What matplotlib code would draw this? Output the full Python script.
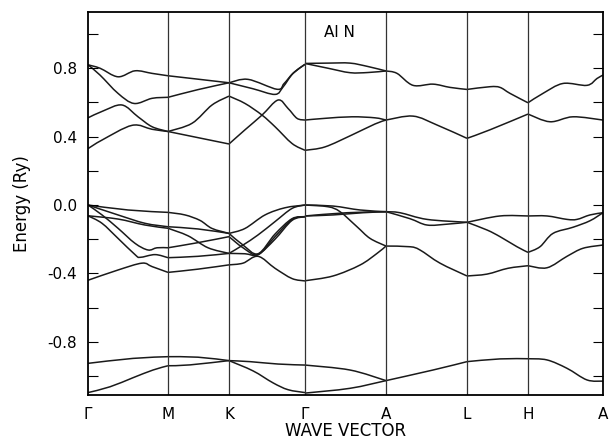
import numpy as np
import matplotlib
matplotlib.use("Agg")
import matplotlib.pyplot as plt
from matplotlib.path import Path
from matplotlib.patches import PathPatch

# high symmetry points along the path (arbitrary path units)
kpoint_labels = ["\u0393", "M", "K", "\u0393", "A", "L", "H", "A"]
kpoint_pos = [0, 80, 141, 217, 298, 379, 440, 515]

# bands, (k, E in Ry), one list per segment
seg_GM = [
    [(0, 0.82), (12, 0.80), (30, 0.75), (47, 0.785), (64, 0.77), (80, 0.756)],
    [(0, 0.82), (12, 0.76), (30, 0.653), (46, 0.594), (64, 0.624), (80, 0.63)],
    [(0, 0.51), (15, 0.55), (34, 0.585), (50, 0.516), (64, 0.458), (80, 0.43)],
    [(0, 0.33), (14, 0.38), (44, 0.466), (64, 0.443), (80, 0.43)],
    [(0, 0.0), (40, -0.029), (80, -0.043)],
    [(0, 0.0), (30, -0.058), (57, -0.107), (80, -0.127)],
    [(0, -0.063), (30, -0.082), (57, -0.117), (80, -0.136)],
    [(0, 0.0), (14, -0.058), (30, -0.136), (47, -0.224), (60, -0.263), (69, -0.25), (80, -0.25)],
    [(0, -0.063), (14, -0.107), (30, -0.195), (47, -0.29), (52, -0.306), (67, -0.29), (80, -0.308)],
    [(0, -0.44), (30, -0.38), (54, -0.34), (64, -0.36), (80, -0.394)],
    [(0, -0.926), (45, -0.897), (80, -0.887)],
    [(0, -1.097), (22, -1.063), (45, -1.01), (65, -0.965), (80, -0.94)],
]

seg_MK = [
    [(80, 0.756), (110, 0.736), (141, 0.715)],
    [(80, 0.63), (110, 0.675), (141, 0.715)],
    [(80, 0.43), (104, 0.478), (124, 0.585), (141, 0.637)],
    [(80, 0.43), (105, 0.40), (141, 0.357)],
    [(80, -0.043), (97, -0.058), (112, -0.09), (124, -0.137), (141, -0.166)],
    [(80, -0.127), (110, -0.14), (141, -0.166)],
    [(80, -0.136), (100, -0.18), (120, -0.25), (141, -0.283)],
    [(80, -0.25), (110, -0.22), (141, -0.185)],
    [(80, -0.308), (110, -0.30), (141, -0.283)],
    [(80, -0.394), (110, -0.375), (141, -0.35)],
    [(80, -0.887), (110, -0.89), (141, -0.91)],
    [(80, -0.94), (102, -0.935), (141, -0.91)],
]

seg_KG = [
    [(141, 0.715), (160, 0.735), (189, 0.677), (196, 0.71), (205, 0.77), (217, 0.823)],
    [(141, 0.715), (165, 0.68), (187, 0.647), (195, 0.69), (205, 0.77), (217, 0.823)],
    [(141, 0.637), (157, 0.594), (174, 0.526), (187, 0.458), (204, 0.36), (217, 0.32)],
    [(141, 0.357), (157, 0.44), (174, 0.526), (190, 0.614), (200, 0.565), (209, 0.507), (217, 0.497)],
    [(141, -0.166), (157, -0.137), (177, -0.058), (197, -0.016), (217, 0.0)],
    [(141, -0.283), (155, -0.234), (170, -0.175), (187, -0.097), (204, -0.02), (217, 0.0)],
    [(141, -0.166), (155, -0.234), (170, -0.285), (187, -0.17), (204, -0.08), (217, -0.068)],
    [(141, -0.185), (155, -0.25), (170, -0.29), (187, -0.185), (204, -0.085), (217, -0.068)],
    [(141, -0.283), (157, -0.285), (170, -0.29), (187, -0.20), (204, -0.09), (217, -0.068)],
    [(141, -0.35), (155, -0.34), (170, -0.30), (187, -0.37), (204, -0.43), (217, -0.444)],
    [(141, -0.91), (162, -0.916), (190, -0.93), (217, -0.936)],
    [(141, -0.91), (165, -0.97), (185, -1.04), (200, -1.08), (217, -1.097)],
]

seg_GA = [
    [(217, 0.828), (240, 0.83), (262, 0.83), (280, 0.81), (298, 0.784)],
    [(217, 0.828), (240, 0.80), (262, 0.774), (280, 0.775), (298, 0.784)],
    [(217, 0.32), (237, 0.34), (264, 0.41), (287, 0.474), (298, 0.497)],
    [(217, 0.497), (237, 0.507), (264, 0.516), (287, 0.51), (298, 0.497)],
    [(217, 0.0), (245, -0.006), (272, -0.029), (298, -0.039)],
    [(217, 0.0), (240, -0.01), (252, -0.039), (269, -0.127), (282, -0.195), (298, -0.24)],
    [(217, -0.064), (259, -0.045), (298, -0.039)],
    [(217, -0.064), (245, -0.058), (275, -0.045), (298, -0.039)],
    [(217, -0.443), (245, -0.415), (272, -0.351), (289, -0.283), (298, -0.24)],
    [(217, -0.936), (262, -0.965), (298, -1.027)],
    [(217, -1.10), (262, -1.072), (298, -1.027)],
]

seg_AL = [
    [(298, 0.784), (309, 0.77), (325, 0.70), (345, 0.707), (362, 0.688), (379, 0.676)],
    [(298, 0.497), (325, 0.52), (349, 0.468), (379, 0.39)],
    [(298, -0.039), (312, -0.045), (339, -0.084), (379, -0.101)],
    [(298, -0.039), (322, -0.08), (339, -0.117), (359, -0.112), (379, -0.101)],
    [(298, -0.24), (322, -0.244), (332, -0.263), (352, -0.34), (379, -0.415)],
    [(298, -1.027), (345, -0.965), (379, -0.916)],
]

seg_LH = [
    [(379, 0.676), (402, 0.692), (412, 0.688), (422, 0.653), (440, 0.598)],
    [(379, 0.39), (402, 0.44), (440, 0.532)],
    [(379, -0.101), (412, -0.064), (440, -0.064)],
    [(379, -0.101), (399, -0.146), (412, -0.185), (429, -0.244), (440, -0.277)],
    [(379, -0.415), (399, -0.404), (420, -0.37), (440, -0.355)],
    [(379, -0.916), (412, -0.90), (440, -0.899)],
]

seg_HA = [
    [(440, 0.598), (455, 0.653), (475, 0.711), (499, 0.70), (509, 0.74), (515, 0.76)],
    [(440, 0.532), (462, 0.487), (485, 0.516), (515, 0.497)],
    [(440, -0.064), (459, -0.064), (479, -0.084), (489, -0.084), (502, -0.058), (515, -0.045)],
    [(440, -0.277), (452, -0.244), (465, -0.166), (485, -0.13), (502, -0.092), (515, -0.045)],
    [(440, -0.355), (459, -0.367), (479, -0.30), (495, -0.253), (515, -0.234)],
    [(440, -0.899), (459, -0.906), (479, -0.955), (499, -1.023), (515, -1.03)],
]

y_major = [-0.8, -0.4, 0.0, 0.4, 0.8]
y_minor = [-1.0, -0.6, -0.2, 0.2, 0.6, 1.0]


def smooth_path(pts):
    # Catmull-Rom through the read points, drawn as cubic Bezier pieces
    pts = np.array(pts, float)
    n = len(pts)
    verts = [pts[0]]
    codes = [Path.MOVETO]
    for i in range(n - 1):
        p0 = pts[i - 1] if i > 0 else pts[i]
        p1 = pts[i]
        p2 = pts[i + 1]
        p3 = pts[i + 2] if i + 2 < n else pts[i + 1]
        verts += [p1 + (p2 - p0) / 6, p2 - (p3 - p1) / 6, p2]
        codes += [Path.CURVE4] * 3
    return Path(verts, codes)


fig = plt.figure(figsize=(6.1, 4.44), dpi=100)
ax = fig.add_axes([0.1443, 0.1104, 0.8442, 0.8626])

for seg in (seg_GM, seg_MK, seg_KG, seg_GA, seg_AL, seg_LH, seg_HA):
    for band in seg:
        ax.add_patch(PathPatch(smooth_path(band), fill=False,
                               edgecolor="#1a1a1a", lw=1.1))

for k in kpoint_pos[1:-1]:
    ax.axvline(k, color="#333333", lw=0.9)

ax.set_xlim(0, 515)
ax.set_ylim(-1.111, 1.129)

ax.set_xticks(kpoint_pos)
ax.set_xticklabels(kpoint_labels, fontsize=11)
ax.tick_params(axis="x", length=0, pad=9)

ax.set_yticks(y_major)
ax.set_yticklabels(["%.1f" % v if v >= 0 else "-%.1f" % -v for v in y_major],
                   fontsize=11)
ax.set_yticks(y_minor, minor=True)
ax.tick_params(axis="y", which="both", direction="in", length=7, width=0.8,
               left=True, right=True, pad=8)

for s in ax.spines.values():
    s.set_linewidth(1.3)

ax.text(251, 1.01, "Al N", ha="center", va="center", fontsize=11)
ax.set_xlabel("WAVE VECTOR", fontsize=12, labelpad=0)
ax.set_ylabel("Energy (Ry)", fontsize=12, labelpad=12)

fig.savefig("out.png", dpi=100)
